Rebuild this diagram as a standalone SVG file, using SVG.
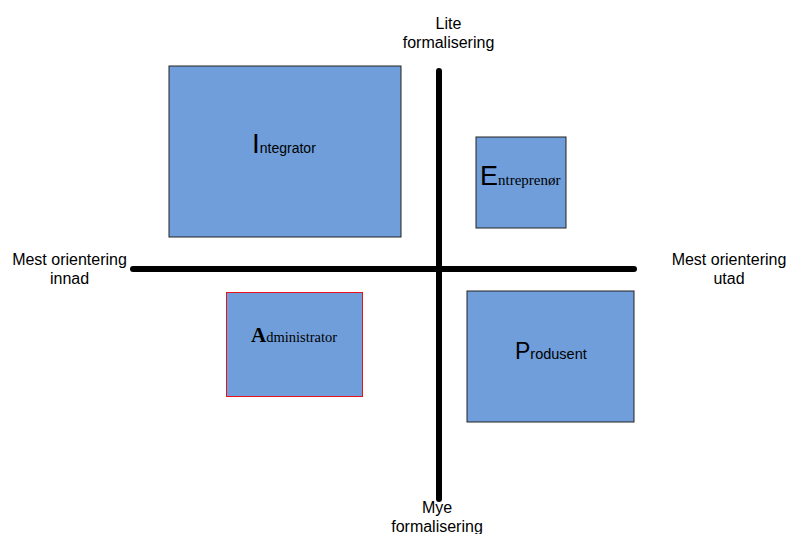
<svg xmlns="http://www.w3.org/2000/svg" width="787" height="534" viewBox="0 0 787 534">
<style>
.box{fill:#6f9eda;stroke:#222;stroke-width:1}
.ax{stroke:#000;stroke-width:6;stroke-linecap:round;fill:none}
.lbl{font-family:"Liberation Sans",Arial,sans-serif;font-size:16px;fill:#000;text-anchor:middle}
.sa{font-family:"Liberation Sans",Arial,sans-serif;fill:#000}
.ss{font-family:"Liberation Serif","Times New Roman",serif;fill:#000}
</style>
<rect width="787" height="534" fill="#fff"/>
<g id="connectors">
<line class="ax" x1="439" y1="71" x2="439" y2="499"/>
<line class="ax" x1="133" y1="269" x2="634" y2="269"/>
</g>
<g id="integrator">
<rect class="box" x="169" y="66" width="232" height="171"/>
<text x="252" y="153"><tspan class="sa" font-size="28">I</tspan><tspan class="sa" font-size="14">ntegrator</tspan></text>
</g>
<g id="entreprenor">
<rect class="box" x="476" y="137" width="90" height="91"/>
<text x="480" y="185"><tspan class="sa" font-size="27">E</tspan><tspan class="ss" font-size="15">ntreprenør</tspan></text>
</g>
<g id="administrator">
<rect class="box" x="226.5" y="292.5" width="136" height="104" style="stroke:#e8121b"/>
<text x="251" y="342"><tspan class="ss" font-size="21" font-weight="bold">A</tspan><tspan class="ss" font-size="14.5">dministrator</tspan></text>
</g>
<g id="produsent">
<rect class="box" x="467" y="291" width="167" height="131"/>
<text x="515" y="359"><tspan class="sa" font-size="23">P</tspan><tspan class="sa" font-size="14.5">rodusent</tspan></text>
</g>
<g id="labels">
<text class="lbl" x="448.5" y="29">Lite</text>
<text class="lbl" x="448.5" y="48">formalisering</text>
<text class="lbl" x="69.5" y="265">Mest orientering</text>
<text class="lbl" x="69.5" y="284">innad</text>
<text class="lbl" x="729" y="265">Mest orientering</text>
<text class="lbl" x="729" y="284">utad</text>
<text class="lbl" x="437" y="513">Mye</text>
<text class="lbl" x="437" y="532">formalisering</text>
</g>
</svg>
